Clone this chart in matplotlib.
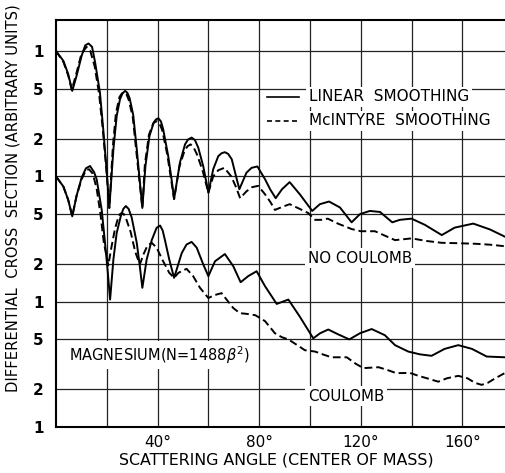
import matplotlib.pyplot as plt

# scattering angle (deg) / cross section, upper family (no Coulomb term), offset one decade up
ncLinAng = [0, 2.9, 4.8, 6.4, 8.1, 10.1, 11.5, 12.8, 14.2, 15.4, 17.3, 18.6, 19.9, 21.0, 22.6, 23.9, 25.2, 26.2, 27.2, 28.1,
            29.0, 30.4, 31.8, 34.0, 35.2, 36.8, 38.5, 39.4, 40.3, 41.3, 42.2, 44.2, 45.5, 46.5, 48.8, 50.8, 52.0, 53.4, 54.7, 56.0,
            58.0, 60.0, 61.9, 63.9, 65.2, 66.5, 67.8, 69.2, 70.9, 72.2, 75.0, 77.0, 79.3, 82.3, 84.3, 86.5, 89.0, 92.0, 96.0, 100.9,
            103.9, 107.5, 111.8, 116.4, 119.7, 123.6, 127.6, 132.4, 135.4, 140.0, 145.3, 151.9, 157.0, 164.3, 170.9, 176.8]
ncLinVal = [1000, 836, 655, 481, 635, 917, 1110, 1150, 1080, 812, 467, 238, 114, 56, 164, 304, 413, 460, 481, 465,
            420, 310, 165, 56, 120, 210, 270, 285, 291, 275, 238, 145, 95, 66, 129, 180, 197, 204, 195, 170,
            120, 74, 114, 145, 153, 156, 151, 137, 100, 79, 107, 117, 120, 95, 79, 67, 79, 90, 72, 53,
            60, 63, 56.5, 43, 50, 53, 52, 43, 45, 46, 41, 34, 39, 42, 37.7, 33]

ncMacAng = [0, 2.9, 4.8, 6.2, 8.0, 10.0, 12.0, 13.5, 15.2, 17.0, 18.4, 19.8, 21.0, 22.4, 23.6, 25.0, 25.9, 26.8, 27.7, 28.6,
            30.2, 31.6, 34.0, 35.0, 36.6, 38.3, 39.1, 39.9, 40.8, 41.8, 43.8, 45.3, 46.5, 48.6, 50.6, 51.8, 53.0, 54.2, 55.5, 57.8,
            60.0, 61.9, 63.9, 66.3, 69.0, 70.9, 72.5, 75.0, 77.2, 79.6, 82.3, 84.5, 86.2, 89.0, 92.0, 96.0, 99.3, 102.0, 104.5, 107.0,
            111.0, 116.4, 120.0, 125.6, 129.0, 133.5, 140.0, 146.0, 151.9, 158.0, 165.0, 171.0, 176.8]
ncMacVal = [1000, 820, 640, 490, 660, 950, 1080, 1000, 760, 450, 240, 115, 56, 175, 320, 430, 458, 470, 455, 410,
            300, 160, 56, 125, 215, 265, 273, 275, 262, 235, 150, 95, 66, 120, 160, 174, 180, 170, 150, 110,
            74, 100, 112, 117, 100, 82, 67, 76, 82, 84, 72, 62, 54, 57, 60, 55, 51, 45, 45, 46,
            42, 38, 36.5, 36.5, 34, 31, 32, 30.5, 29.5, 29.3, 29, 28.5, 27.7]

# lower family (with Coulomb term)
coLinAng = [0, 2.9, 4.8, 6.4, 8.1, 10.1, 11.8, 13.4, 15.0, 16.0, 18.0, 19.3, 20.3, 21.3, 22.6, 23.9, 25.5, 26.5, 27.5, 28.6,
            29.8, 31.8, 33.0, 34.0, 35.7, 37.7, 39.6, 41.0, 42.0, 42.9, 44.6, 46.5, 49.5, 51.4, 53.4, 55.4, 58.0, 60.0, 62.6, 66.5,
            69.8, 72.7, 75.7, 79.0, 82.3, 86.9, 91.5, 96.0, 101.3, 104.0, 107.2, 111.0, 115.5, 119.7, 124.3, 129.5, 133.5, 138.7, 143.3, 147.9,
            153.0, 158.4, 163.8, 169.6, 176.8]
coLinVal = [100, 83, 65, 48, 70, 98, 116, 121, 108, 95, 54, 29.5, 18, 10.4, 21.7, 35.4, 48, 55, 58, 55,
            47, 29.5, 19.2, 12.9, 21.7, 31, 38.8, 40.5, 37, 31, 21.7, 15.5, 24.4, 28.6, 30, 27, 19.8, 16, 21, 24,
            19.2, 14.3, 16, 17.5, 13.3, 9.6, 10.4, 7.6, 5.1, 5.6, 6.0, 5.5, 5.0, 5.6, 6.05, 5.4, 4.5, 4.0, 3.8, 3.7,
            4.2, 4.5, 4.2, 3.65, 3.6]

coMacAng = [0, 2.9, 4.8, 6.4, 8.1, 10.1, 11.8, 13.0, 14.5, 16.0, 17.5, 18.8, 20.6, 21.8, 23.2, 24.5, 25.2, 25.9, 26.7, 27.6,
            29.4, 31.2, 33.0, 34.5, 36.0, 37.7, 39.6, 42.2, 44.6, 46.5, 48.2, 51.4, 54.0, 56.7, 60.0, 62.5, 65.2, 67.5, 69.8, 72.4,
            75.0, 78.5, 82.3, 86.2, 89.0, 91.5, 95.0, 98.0, 102.0, 105.0, 108.5, 114.5, 118.0, 121.0, 127.0, 130.5, 134.0, 139.4, 143.0, 146.0,
            150.5, 154.0, 158.4, 162.0, 165.0, 167.6, 170.0, 173.0, 176.8]
coMacVal = [100, 83, 65, 48, 70, 95, 112, 114, 105, 80, 50, 30, 19.5, 27, 38, 47, 50, 51, 50, 46,
            36, 25, 19.8, 24, 28, 29.5, 27, 21, 17, 15.5, 17, 18.3, 16, 12.9, 10.7, 11.3, 11.7, 10.2, 8.9, 8.1,
            8.0, 7.8, 7.0, 5.6, 5.2, 5.0, 4.5, 4.1, 4.0, 3.8, 3.6, 3.6, 3.2, 2.95, 3.0, 2.85, 2.69, 2.7, 2.55, 2.45,
            2.3, 2.45, 2.56, 2.45, 2.25, 2.17, 2.25, 2.45, 2.7]

yTicks = [1, 2, 5, 10, 20, 50, 100, 200, 500, 1000]
yTickLabels = ['1', '2', '5', '1', '2', '5', '1', '2', '5', '1']
xTicks = [40, 80, 120, 160]
xTickLabels = ['40°', '80°', '120°', '160°']

plt.rcParams['font.family'] = ['DejaVu Sans']

fig = plt.figure(figsize=(5.05, 4.73), dpi=100)
ax = fig.add_axes([56/505, 46/473, 449/505, 407/473])

ax.set_yscale('log')
ax.set_xlim(0, 176.8)
ax.set_ylim(1, 1770)

# hand-drawn style grid
for gx in range(20, 180, 20):
    ax.axvline(gx, color='#222222', lw=0.9, zorder=1)
for gy in yTicks[1:]:
    ax.axhline(gy, color='#222222', lw=0.9, zorder=1)

dash = (4, 2)
ax.plot(ncLinAng, ncLinVal, color='black', lw=1.4, zorder=3)
ax.plot(ncMacAng, ncMacVal, color='black', lw=1.4, dashes=dash, zorder=3)
ax.plot(coLinAng, coLinVal, color='black', lw=1.4, zorder=3)
ax.plot(coMacAng, coMacVal, color='black', lw=1.4, dashes=dash, zorder=3)

ax.set_yticks(yTicks)
ax.set_yticklabels(yTickLabels, fontsize=11, fontweight='bold')
ax.yaxis.set_minor_locator(plt.NullLocator())
ax.set_xticks(xTicks)
ax.set_xticklabels(xTickLabels, fontsize=11)
ax.tick_params(axis='both', length=0)
ax.tick_params(axis='y', pad=9)
ax.tick_params(axis='x', pad=6)

for side in ['left', 'bottom', 'top']:
    ax.spines[side].set_linewidth(1.5)
ax.spines['right'].set_visible(False)

ax.set_ylabel('DIFFERENTIAL  CROSS  SECTION (ARBITRARY UNITS)', fontsize=10.6)
ax.yaxis.set_label_coords(-0.078, 0.563)
ax.set_xlabel('SCATTERING ANGLE (CENTER OF MASS)', fontsize=11.4)
ax.xaxis.set_label_coords(0.49, -0.062)

# legend samples and labels
ax.plot([0.47, 0.541], [0.811, 0.811], transform=ax.transAxes, color='black', lw=1.2, zorder=5)
ax.plot([0.47, 0.541], [0.752, 0.752], transform=ax.transAxes, color='black', lw=1.2, dashes=(3, 2), zorder=5)
box = dict(facecolor='white', edgecolor='none', pad=2)
ax.text(0.563, 0.811, 'LINEAR  SMOOTHING', transform=ax.transAxes, fontsize=11, va='center', bbox=box, zorder=4)
ax.text(0.563, 0.752, 'McINTYRE  SMOOTHING', transform=ax.transAxes, fontsize=11, va='center', bbox=box, zorder=4)

ax.text(0.561, 0.415, 'NO COULOMB', transform=ax.transAxes, fontsize=10.8, va='center', bbox=box, zorder=4)
ax.text(0.561, 0.076, 'COULOMB', transform=ax.transAxes, fontsize=10.8, va='center', bbox=box, zorder=4)
ax.text(0.029, 0.177, 'MAGNESIUM(N=1488$\\beta^2$)', transform=ax.transAxes, fontsize=10.5, va='center', bbox=box, zorder=4)

fig.savefig('out.png', dpi=100)
